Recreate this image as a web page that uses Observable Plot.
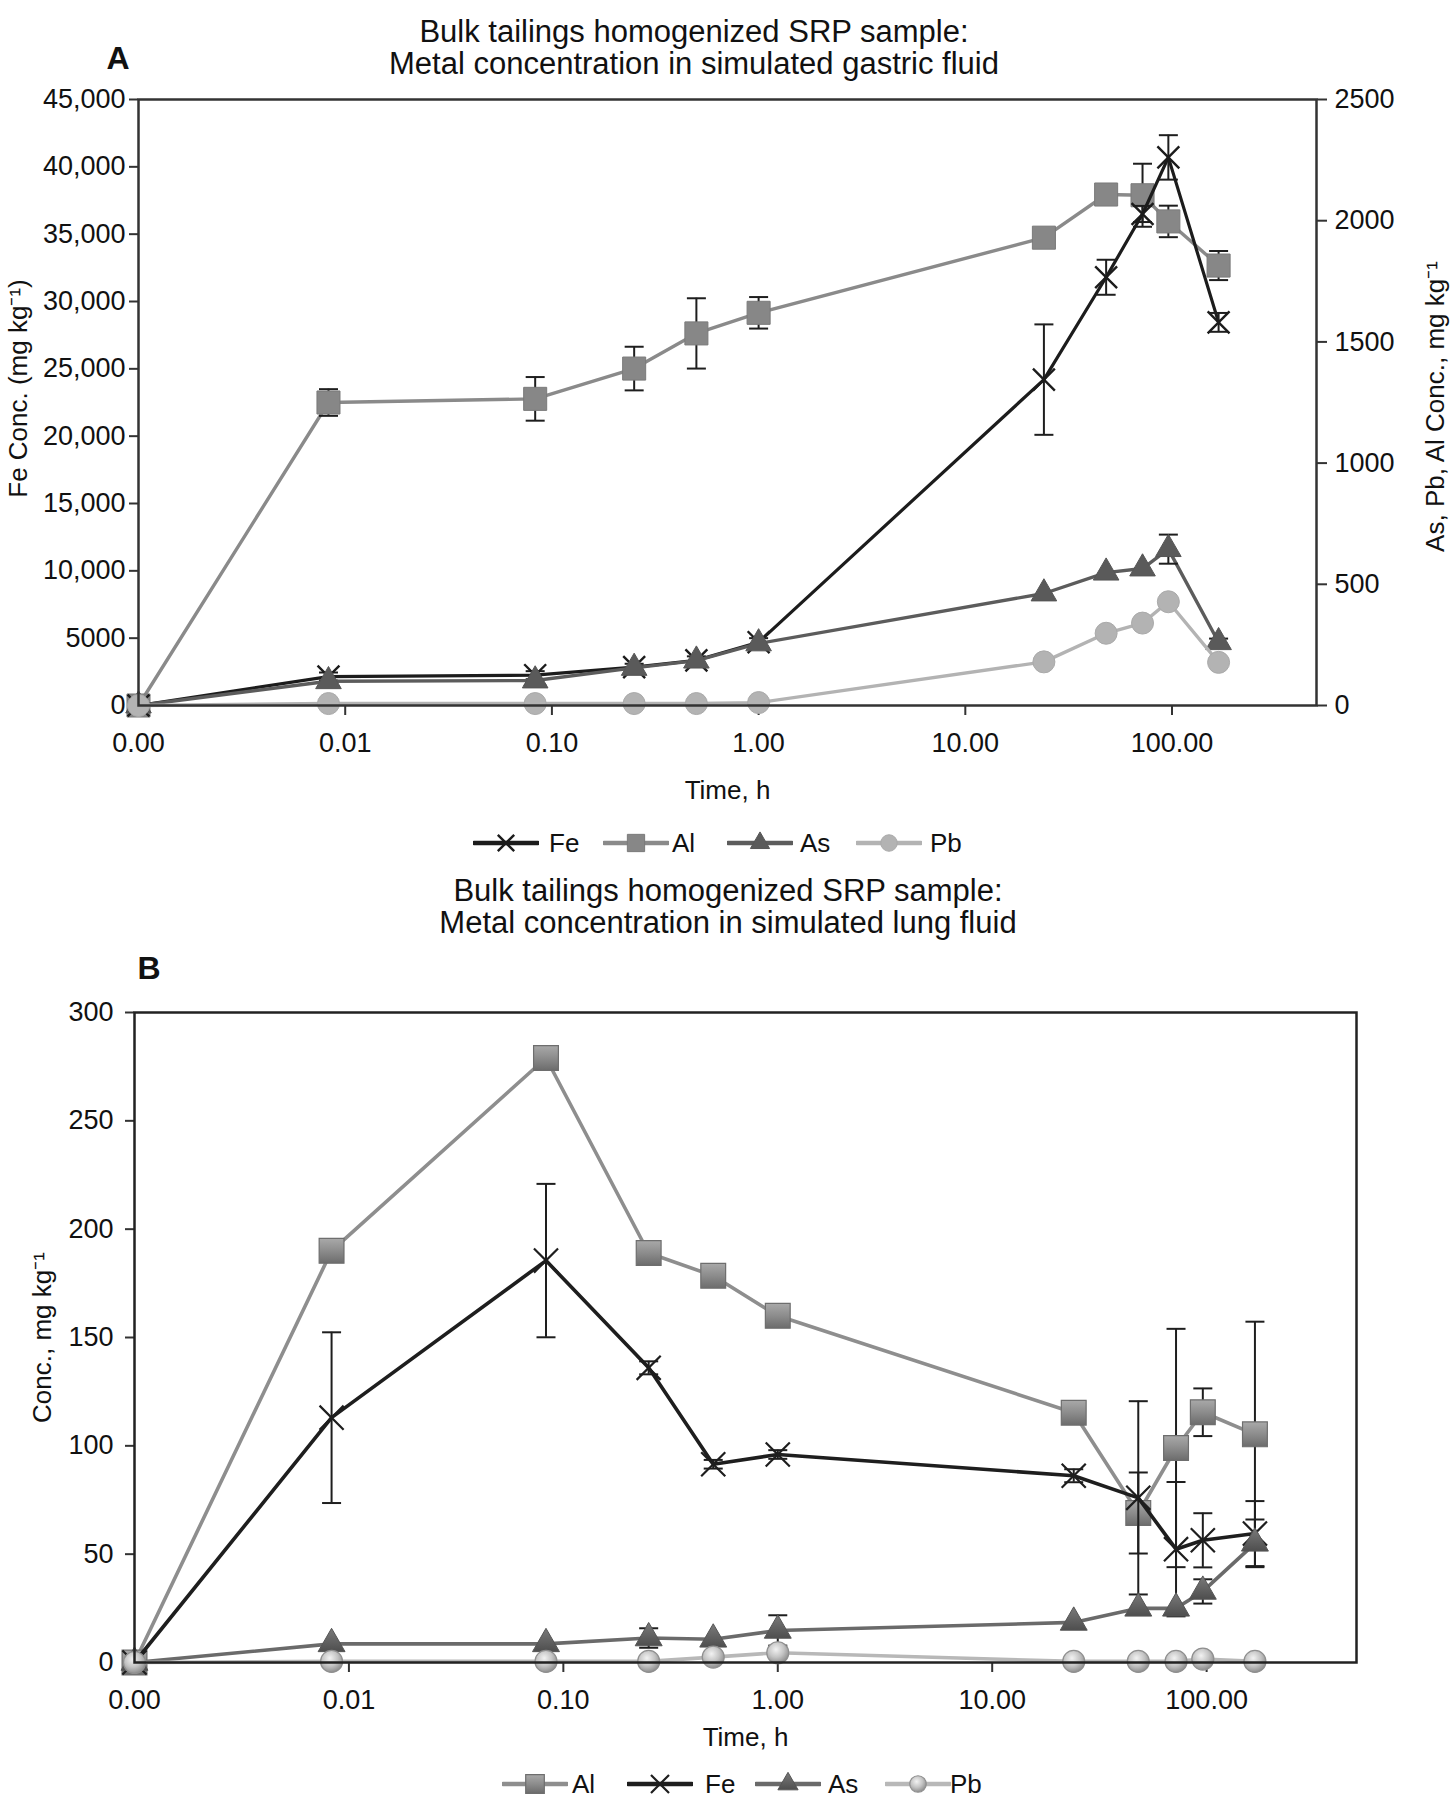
<!DOCTYPE html>
<html><head><meta charset="utf-8">
<script src="https://cdn.jsdelivr.net/npm/d3@7"></script>
<script src="https://cdn.jsdelivr.net/npm/@observablehq/plot@0.6"></script>
<style>
body{margin:0;background:#fff;font-family:"Liberation Sans",Arial,Helvetica,sans-serif;color:#111;}
#page{position:relative;width:1454px;height:1800px;overflow:hidden;background:#fff;}
.title{position:absolute;font-size:31px;line-height:32px;text-align:center;white-space:nowrap;transform:translateX(-50%);}
.panel{position:absolute;font-weight:bold;font-size:32px;line-height:32px;transform:translate(-50%,-50%);}
.chart{position:absolute;left:0;}
.leg{position:absolute;font-size:26px;line-height:30px;white-space:nowrap;}
</style></head><body>
<svg width="0" height="0" style="position:absolute">
  <defs>
    <linearGradient id="gAl" x1="0" y1="0" x2="0" y2="1">
      <stop offset="0" stop-color="#a9a9a9"/><stop offset="0.5" stop-color="#8c8c8c"/><stop offset="1" stop-color="#6c6c6c"/>
    </linearGradient>
    <linearGradient id="gAs" x1="0" y1="0" x2="0" y2="1">
      <stop offset="0" stop-color="#7a7a7a"/><stop offset="1" stop-color="#4e4e4e"/>
    </linearGradient>
    <radialGradient id="gPb" cx="0.42" cy="0.35" r="0.65">
      <stop offset="0" stop-color="#f2f2f2"/><stop offset="0.55" stop-color="#c4c4c4"/><stop offset="1" stop-color="#8e8e8e"/>
    </radialGradient>
  </defs>
</svg>
<div id="page"></div>
<script>
// ---------- data ----------
const times = [0, 0.0083, 0.083, 0.25, 0.5, 1, 24, 48, 72, 96, 168]; // h
const xTickValues = [0.001, 0.01, 0.1, 1, 10, 100];
const xTickLabels = ["0.00", "0.01", "0.10", "1.00", "10.00", "100.00"];

// Panel A: simulated gastric fluid (Fe on left axis, others on right axis)
const gastricFe    = [0, 2150, 2250, 2850, 3350, 4700, 24200, 31800, 36500, 40700, 28450];
const gastricFeErr = [0, 300, 300, 250, 300, 300, 4100, 1300, 600, 1650, 700];
const gastricAl    = [0, 1250, 1265, 1390, 1535, 1620, 1930, 2108, 2105, 1997, 1815];
const gastricAlErr = [0, 55, 90, 90, 145, 65, 15, 40, 130, 65, 60];
const gastricAs    = [0, 100, 103, 155, 185, 256, 462, 548, 565, 645, 261];
const gastricAsErr = [0, 0, 0, 0, 0, 0, 0, 0, 0, 60, 15];
const gastricPb    = [0, 8, 8, 8, 8, 12, 180, 298, 340, 428, 178];
const leftTicksA  = [0, 5000, 10000, 15000, 20000, 25000, 30000, 35000, 40000, 45000];
const rightTicksA = [0, 500, 1000, 1500, 2000, 2500];

// Panel B: simulated lung fluid
const lungAl    = [0, 190, 279, 189, 178.5, 160, 115.3, 69, 99, 115.5, 105.3];
const lungAlErr = [0, 0, 0, 0, 0, 0, 0, 18.7, 55, 11, 52];
const lungFe    = [0, 113, 185.5, 136, 91.5, 96, 86.2, 76, 52.3, 56.4, 59.5];
const lungFeErr = [0, 39.4, 35.4, 3, 2, 2, 3, 44.6, 31, 12.5, 15];
const lungAs    = [0, 8.6, 8.6, 11.3, 10.7, 14.8, 18.5, 25, 25, 32.8, 55];
const lungAsErr = [0, 0, 0, 4.5, 0, 7, 0, 0, 0, 5.6, 11];
const lungPb    = [0, 0.5, 0.5, 0.5, 2.5, 4.5, 0.5, 0.5, 0.5, 1.6, 0.5];
const yTicksB = [0, 50, 100, 150, 200, 250, 300];

// ---------- helpers ----------
const FONT = '"Liberation Sans", Arial, Helvetica, sans-serif';
const ORIGIN = 0.001;          // time 0 sits at the axis origin of the log axis
const RIGHT_K = 45000 / 2500;  // right-axis units -> left-axis units
const cap = {draw(ctx) { ctx.moveTo(-9.5, 0); ctx.lineTo(9.5, 0); }};

function rows(vals, errs, k = 1) {
  return times.map((t, i) => ({t: t === 0 ? ORIGIN : t, v: vals[i] * k, e: (errs ? errs[i] : 0) * k}));
}
function seriesMarks(data, st) {
  const eb = data.filter(d => d.e > 0);
  return [
    Plot.line(data, {x: "t", y: "v", stroke: st.line, strokeWidth: st.lw}),
    Plot.ruleX(eb, {x: "t", y1: d => d.v - d.e, y2: d => d.v + d.e, stroke: "#1e1e1e", strokeWidth: 2}),
    Plot.dot(eb, {x: "t", y: d => d.v + d.e, symbol: cap, r: 5, fill: "none", stroke: "#1e1e1e", strokeWidth: 2}),
    Plot.dot(eb, {x: "t", y: d => d.v - d.e, symbol: cap, r: 5, fill: "none", stroke: "#1e1e1e", strokeWidth: 2}),
    Plot.dot(data, {x: "t", y: "v", symbol: st.symbol, r: st.r, fill: st.fill, stroke: st.stroke, strokeWidth: st.sw})
  ];
}
const fmtLeft = d => d >= 10000 ? d3.format(",")(d) : String(d);
const xFmt = d => xTickLabels[xTickValues.indexOf(d)];

const page = document.getElementById("page");
function addDiv(cls, text, style) {
  const el = document.createElement("div");
  el.className = cls; el.textContent = text;
  Object.assign(el.style, style);
  page.appendChild(el); return el;
}

// ---------- Panel A ----------
const stA = {
  Fe: {line: "#1c1c1c", lw: 3.2, symbol: "times", r: 10, fill: "none", stroke: "#1c1c1c", sw: 2.4},
  Al: {line: "#8a8a8a", lw: 3.4, symbol: "square", r: 13, fill: "#878787", stroke: "#7a7a7a", sw: 1},
  As: {line: "#5c5c5c", lw: 3.4, symbol: "triangle", r: 9.5, fill: "#5a5a5a", stroke: "#555", sw: 1},
  Pb: {line: "#b3b3b3", lw: 3.4, symbol: "circle", r: 11, fill: "#b3b3b3", stroke: "#aaa", sw: 1}
};

addDiv("title", "Bulk tailings homogenized SRP sample:", {left: "694px", top: "16px"});
addDiv("title", "Metal concentration in simulated gastric fluid", {left: "694px", top: "48px"});
addDiv("panel", "A", {left: "118px", top: "58px"});

const chartA = Plot.plot({
  width: 1454, height: 735,
  marginTop: 19, marginBottom: 110, marginLeft: 138, marginRight: 138,
  style: {fontFamily: FONT, fontSize: "27px", color: "#111", background: "transparent", overflow: "visible"},
  x: {type: "log", domain: [ORIGIN, 500]},
  y: {domain: [0, 45000]},
  marks: [
    Plot.axisX({ticks: xTickValues, tickFormat: xFmt, tickSize: 10, tickPadding: 17, strokeWidth: 2, stroke: "#333", label: null}),
    Plot.axisY({anchor: "left", ticks: leftTicksA, tickFormat: fmtLeft, tickSize: 9, tickPadding: 4, strokeWidth: 2, stroke: "#333", label: null}),
    Plot.axisY({anchor: "right", ticks: rightTicksA.map(v => v * RIGHT_K), tickFormat: d => String(Math.round(d / RIGHT_K)), tickSize: 10, tickPadding: 8, strokeWidth: 2, stroke: "#333", label: null}),
    Plot.text(["Time, h"], {frameAnchor: "bottom", dy: 93, fontSize: 26, fill: "#111"}),
    Plot.text(["Fe Conc. (mg kg\u207B\u00B9)"], {frameAnchor: "left", textAnchor: "middle", rotate: -90, dx: -120, dy: -14, fontSize: 26, fill: "#111"}),
    Plot.text(["As, Pb, Al Conc., mg kg\u207B\u00B9"], {frameAnchor: "right", textAnchor: "middle", rotate: -90, dx: 119, dy: 4, fontSize: 26, fill: "#111"}),
    ...seriesMarks(rows(gastricAl, gastricAlErr, RIGHT_K), stA.Al),
    ...seriesMarks(rows(gastricFe, gastricFeErr), stA.Fe),
    ...seriesMarks(rows(gastricAs, gastricAsErr, RIGHT_K), stA.As),
    ...seriesMarks(rows(gastricPb, null, RIGHT_K), stA.Pb),
    Plot.frame({stroke: "#333", strokeWidth: 2.5})
  ]
});
chartA.classList.add("chart"); chartA.style.top = "80px";
page.appendChild(chartA);

// ---------- Panel B ----------
const stB = {
  Al: {line: "#8e8e8e", lw: 3.6, symbol: "square", r: 14, fill: "url(#gAl)", stroke: "#6e6e6e", sw: 1.2},
  Fe: {line: "#1e1e1e", lw: 3.6, symbol: "times", r: 11, fill: "none", stroke: "#1e1e1e", sw: 2.2},
  As: {line: "#6a6a6a", lw: 3.6, symbol: "triangle", r: 10, fill: "url(#gAs)", stroke: "#555", sw: 1},
  Pb: {line: "#b8b8b8", lw: 3.6, symbol: "circle", r: 11, fill: "url(#gPb)", stroke: "#8f8f8f", sw: 1.2}
};

addDiv("title", "Bulk tailings homogenized SRP sample:", {left: "728px", top: "875px"});
addDiv("title", "Metal concentration in simulated lung fluid", {left: "728px", top: "907px"});
addDiv("panel", "B", {left: "149px", top: "968px"});

const chartB = Plot.plot({
  width: 1454, height: 770,
  marginTop: 22, marginBottom: 98, marginLeft: 134, marginRight: 98,
  style: {fontFamily: FONT, fontSize: "27px", color: "#111", background: "transparent", overflow: "visible"},
  x: {type: "log", domain: [ORIGIN, 500]},
  y: {domain: [0, 300]},
  marks: [
    Plot.axisX({ticks: xTickValues, tickFormat: xFmt, tickSize: 10, tickPadding: 17, strokeWidth: 2, stroke: "#333", label: null}),
    Plot.axisY({anchor: "left", ticks: yTicksB, tickSize: 9, tickPadding: 12, strokeWidth: 2, stroke: "#333", label: null}),
    Plot.text(["Time, h"], {frameAnchor: "bottom", dy: 83, fontSize: 26, fill: "#111"}),
    Plot.text(["Conc., mg kg\u207B\u00B9"], {frameAnchor: "left", textAnchor: "middle", rotate: -90, dx: -92, fontSize: 26, fill: "#111"}),
    ...seriesMarks(rows(lungAl, lungAlErr), stB.Al),
    ...seriesMarks(rows(lungFe, lungFeErr), stB.Fe),
    ...seriesMarks(rows(lungAs, lungAsErr), stB.As),
    ...seriesMarks(rows(lungPb, null), stB.Pb),
    Plot.frame({stroke: "#222", strokeWidth: 2.5})
  ]
});
chartB.classList.add("chart"); chartB.style.top = "990px";
page.appendChild(chartB);

// ---------- legends ----------
function legend(entries, styles, yCenter) {
  entries.forEach(([name, sx, tx]) => {
    const st = styles[name];
    const svg = d3.create("svg").attr("width", 66).attr("height", 30)
      .style("position", "absolute").style("left", sx + "px").style("top", (yCenter - 15) + "px");
    svg.append("line").attr("x1", 1).attr("x2", 65).attr("y1", 15).attr("y2", 15)
      .attr("stroke", st.line).attr("stroke-width", 4.5).attr("stroke-linecap", "round");
    const sym = {times: d3.symbolTimes, square: d3.symbolSquare, triangle: d3.symbolTriangle, circle: d3.symbolCircle}[st.symbol];
    svg.append("path").attr("transform", "translate(33,15)")
      .attr("d", d3.symbol(sym, Math.PI * (st.r * 0.75) ** 2)())
      .attr("fill", st.fill).attr("stroke", st.stroke).attr("stroke-width", st.sw);
    page.appendChild(svg.node());
    addDiv("leg", name, {left: tx + "px", top: (yCenter - 15) + "px"});
  });
}
legend([["Fe", 473, 549], ["Al", 603, 672], ["As", 727, 800], ["Pb", 856, 930]], stA, 843);
legend([["Al", 502, 572], ["Fe", 627, 705], ["As", 755, 828], ["Pb", 885, 950]], stB, 1784);
</script></body></html>
